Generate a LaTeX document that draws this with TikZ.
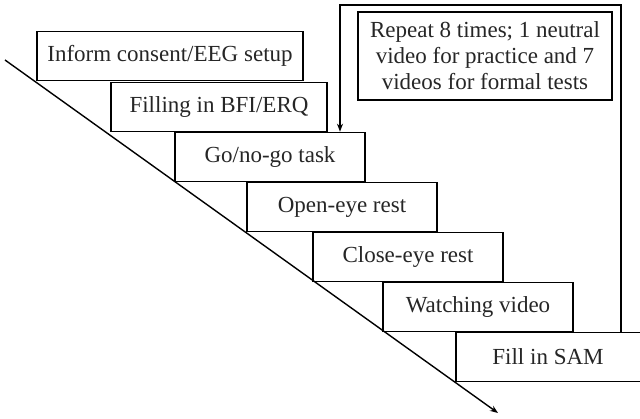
\documentclass[tikz,border=0pt]{standalone}
\usepackage{fontspec}
\setmainfont{Liberation Serif}
\usetikzlibrary{arrows.meta}
\begin{document}
\begin{tikzpicture}[x=1pt,y=-1pt,
  stepbox/.style={draw=black, line width=1.6pt, rectangle, inner sep=0pt, font=\fontsize{23}{26}\selectfont, text=black!85},
  notebox/.style={draw=black, line width=2.2pt, rectangle, inner sep=0pt, align=center, font=\fontsize{23}{26}\selectfont, text=black!85},
  conn/.style={line width=1.4pt, -{Stealth[length=8pt,width=6pt]}},
]
\useasboundingbox (0,0) rectangle (640,419);
\clip (0,0) rectangle (640,419);
\node[stepbox, minimum width=266pt, minimum height=49pt] (b1) at (170,56) {Inform consent/EEG setup};
\node[stepbox, minimum width=216pt, minimum height=49pt] (b2) at (219,107) {Filling in BFI/ERQ};
\node[stepbox, minimum width=190pt, minimum height=49pt] (b3) at (270,157) {Go/no-go task};
\node[stepbox, minimum width=190pt, minimum height=49pt] (b4) at (342,207) {Open-eye rest};
\node[stepbox, minimum width=190pt, minimum height=49pt] (b5) at (408,257) {Close-eye rest};
\node[stepbox, minimum width=190pt, minimum height=49pt] (b6) at (478,307) {Watching video};
\node[stepbox, minimum width=220pt, minimum height=49pt, anchor=west] (b7) at (455,357) {};
\node[font=\fontsize{23}{26}\selectfont, text=black!85] (t7) at (548,357) {Fill in SAM};
\node[notebox, minimum width=254pt, minimum height=88pt] (note) at (485,56) {Repeat 8 times; 1 neutral\\video for practice and 7\\videos for formal tests};
\coordinate (start) at (5,60);
\coordinate (end) at (498,413);
\draw[conn] (start) -- (end);
\coordinate (lr) at (621,5);
\coordinate (ll) at (340,5);
\draw[conn] (b7.north west -| lr) -- (lr) -- (ll) -- (ll |- b3.north);
\end{tikzpicture}
\end{document}
